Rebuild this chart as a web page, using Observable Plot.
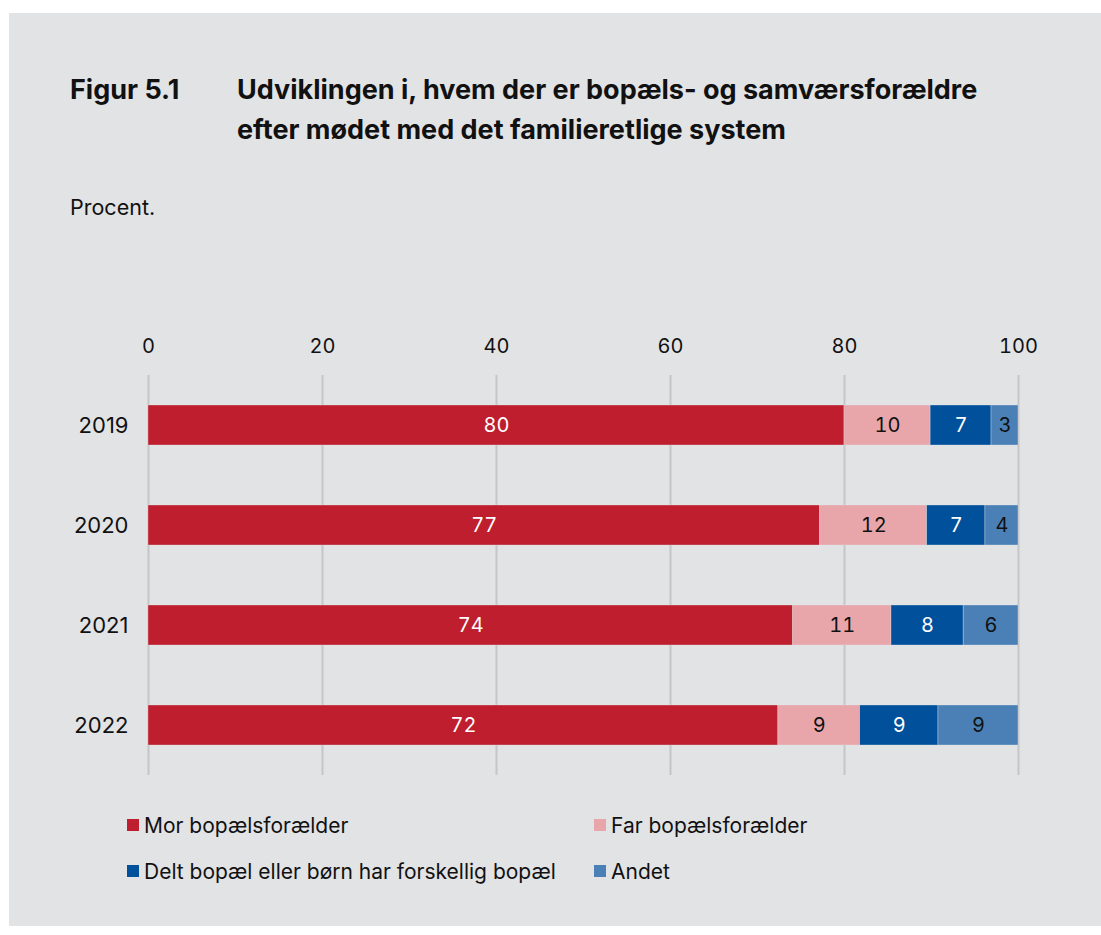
<!DOCTYPE html>
<html>
<head>
<meta charset="utf-8">
<script src="https://cdn.jsdelivr.net/npm/d3@7"></script>
<script src="https://cdn.jsdelivr.net/npm/@observablehq/plot@0.6"></script>
<style>
  html, body { margin: 0; padding: 0; background: #ffffff; }
  body { width: 1101px; height: 935px; position: relative; overflow: hidden; font-family: Inter, "Noto Sans", sans-serif; color: #111; }
  #panel { position: absolute; left: 9px; top: 13px; width: 1092px; height: 913px; background: #e2e3e5; }
  .t { position: absolute; font-weight: 700; font-size: 27px; line-height: 40px; color: #111; }
  #sub { position: absolute; left: 70px; top: 195px; font-size: 21.5px; line-height: 24px; color: #111; }
  #chart { position: absolute; left: 0; top: 320px; }
  .leg { position: absolute; font-size: 21px; color: #111; display: flex; align-items: center; }
  .sw { width: 12px; height: 12px; margin-right: 5px; }
</style>
</head>
<body>
<div id="panel"></div>
<div class="t" style="left:70px; top:70px;">Figur 5.1</div>
<div class="t" style="left:237px; top:70px;">Udviklingen i, hvem der er bopæls- og samværsforældre<br>efter mødet med det familieretlige system</div>
<div id="sub">Procent.</div>
<div id="chart"></div>
<div id="legend"></div>
<script>
const years = ["2019", "2020", "2021", "2022"];
const series = ["Mor bopælsforælder", "Far bopælsforælder", "Delt bopæl eller børn har forskellig bopæl", "Andet"];
const colors = ["#be1e2d", "#e8a6ab", "#00509b", "#4a80b5"];
const textColors = ["#ffffff", "#111111", "#ffffff", "#111111"];
const mor   = [80.0, 77.2, 74.1, 72.4];
const far   = [9.9, 12.3, 11.3, 9.4];
const delt  = [7.0, 6.7, 8.3, 9.0];
const andet = [3.1, 3.8, 6.3, 9.2];
const labels = [
  [80, 10, 7, 3],
  [77, 12, 7, 4],
  [74, 11, 8, 6],
  [72, 9, 9, 9]
];
const xTicks = [0, 20, 40, 60, 80, 100];

const valuesBySeries = [mor, far, delt, andet];
const rows = [];
years.forEach((y, i) => {
  let acc = 0;
  series.forEach((s, j) => {
    const v = valuesBySeries[j][i];
    rows.push({year: y, series: s, si: j, x1: acc, x2: acc + v, mid: acc + v / 2, label: labels[i][j]});
    acc += v;
  });
});

const chart = Plot.plot({
  width: 1101,
  height: 470,
  marginLeft: 148,
  marginRight: 83,
  marginTop: 55,
  marginBottom: 15,
  style: {background: "transparent", fontFamily: "Inter, 'Noto Sans', sans-serif", fontSize: "20px", color: "#111"},
  x: {domain: [0, 100], ticks: xTicks},
  y: {domain: years, paddingInner: 0.6, paddingOuter: 0.3},
  color: {domain: series, range: colors},
  marks: [
    Plot.gridX(xTicks, {stroke: "#c5c6c8", strokeOpacity: 1, strokeWidth: 2}),
    Plot.barX(rows, {x1: "x1", x2: "x2", y: "year", fill: "series", stroke: "#e2e3e5", strokeWidth: 0.6, strokeOpacity: 0.6}),
    ...series.map((s, j) => Plot.text(rows.filter(r => r.si === j), {x: "mid", y: "year", text: "label", fill: textColors[j], fontSize: 20})),
    Plot.axisX(xTicks, {anchor: "top", tickSize: 0, tickPadding: 23, fontSize: 20, label: null}),
    Plot.axisY({anchor: "left", tickSize: 0, tickPadding: 20, fontSize: 22, label: null})
  ]
});
document.getElementById("chart").appendChild(chart);

const legPos = [[127, 825], [594, 825], [127, 871], [594, 871]];
const legend = document.getElementById("legend");
series.forEach((s, j) => {
  const d = document.createElement("div");
  d.className = "leg";
  d.style.left = legPos[j][0] + "px";
  d.style.top = (legPos[j][1] - 12) + "px";
  d.style.height = "24px";
  const sw = document.createElement("div");
  sw.className = "sw";
  sw.style.background = colors[j];
  const t = document.createElement("span");
  t.textContent = s;
  d.appendChild(sw);
  d.appendChild(t);
  legend.appendChild(d);
});
</script>
</body>
</html>
